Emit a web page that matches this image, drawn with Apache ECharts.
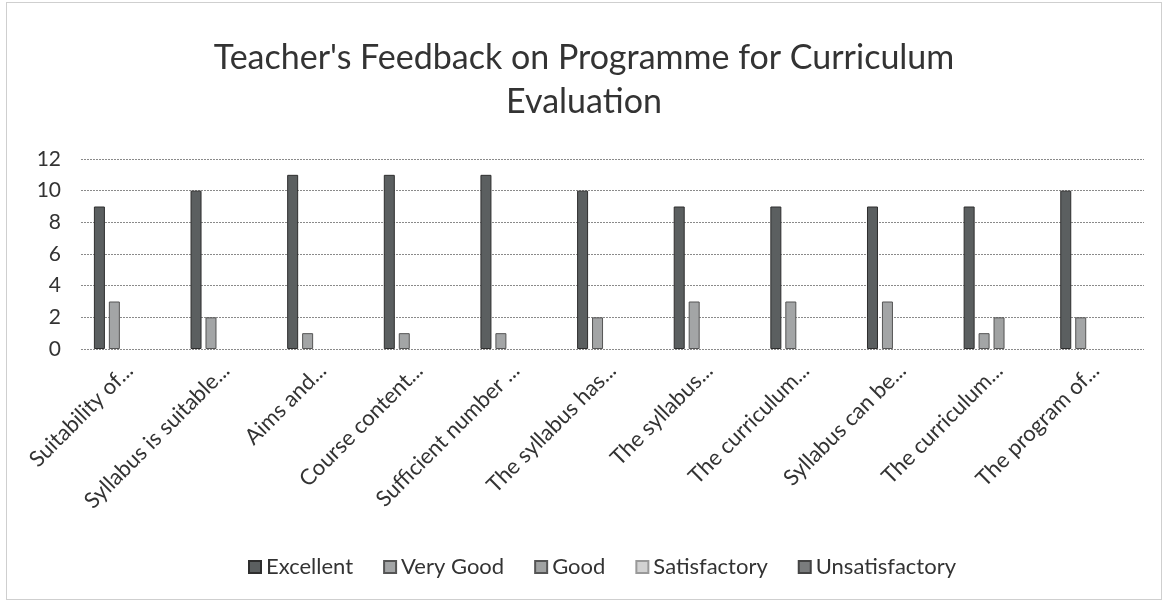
<!DOCTYPE html>
<html><head><meta charset="utf-8">
<script src="https://cdn.jsdelivr.net/npm/echarts@6/dist/echarts.min.js"></script>
<style>html,body{margin:0;padding:0;background:#fff}#c{position:absolute;left:6px;top:2px;width:1156px;height:598px;border:1px solid #cfcfcf;box-sizing:border-box}</style>
</head><body><div id="c"></div>
<script>
const categories = ["Suitability of...","Syllabus is suitable...","Aims and...","Course content...","Sufficient number ...","The syllabus has...","The syllabus...","The curriculum...","Syllabus can be...","The curriculum...","The program of..."];
const excellent = [9,10,11,11,11,10,9,9,9,9,10];
const veryGood = [3,2,1,1,1,2,3,3,3,1,2];
const good = [0,0,0,0,0,0,0,0,0,2,0];
const satisfactory = [0,0,0,0,0,0,0,0,0,0,0];
const unsatisfactory = [0,0,0,0,0,0,0,0,0,0,0];
const yTicks = [0,2,4,6,8,10,12];

const font = 'Lato, "Open Sans", sans-serif';
const chart = echarts.init(document.getElementById('c'));
function s(name, data, color, border){
  return {name, type:'bar', barWidth:11, barGap:'36%',
    data: data.map(v => v === 0 ? {value:0, itemStyle:{borderWidth:0}} : v),
    itemStyle:{color, borderColor:border, borderWidth:1}};
}
chart.setOption({
  animation:false,
  title:{text:"Teacher's Feedback on Programme for Curriculum\nEvaluation", left:'center', top:28,
    textStyle:{fontFamily:font, fontWeight:'normal', fontSize:34, color:'#333', lineHeight:44}},
  grid:{left:74, right:17, top:156, bottom:250, containLabel:false},
  legend:{bottom:16, left:236, itemWidth:12, itemHeight:12, itemGap:30,
    textStyle:{fontFamily:font, fontSize:22, color:'#333'},
    data:[
      {name:'Excellent', icon:'rect'},{name:'Very Good', icon:'rect'},{name:'Good', icon:'rect'},
      {name:'Satisfactory', icon:'rect'},{name:'Unsatisfactory', icon:'rect'}]},
  xAxis:{type:'category', data:categories,
    axisLine:{show:false}, axisTick:{show:false},
    axisLabel:{rotate:45, interval:0, margin:18, fontFamily:font, fontSize:22, color:'#333'}},
  yAxis:{type:'value', min:yTicks[0], max:yTicks[yTicks.length-1], interval:2,
    axisLine:{show:false}, axisTick:{show:false},
    axisLabel:{margin:20, fontFamily:font, fontSize:21, color:'#333'},
    splitLine:{lineStyle:{color:'#8a8a8a', type:[2,1], width:1}}},
  series:[
    s('Excellent', excellent, '#5b5f60', '#2e2e2e'),
    s('Very Good', veryGood, '#a3a5a6', '#555'),
    s('Good', good, '#a0a2a2', '#555'),
    s('Satisfactory', satisfactory, '#d2d2d2', '#999'),
    s('Unsatisfactory', unsatisfactory, '#7a7c7d', '#444')
  ]
});
</script></body></html>
